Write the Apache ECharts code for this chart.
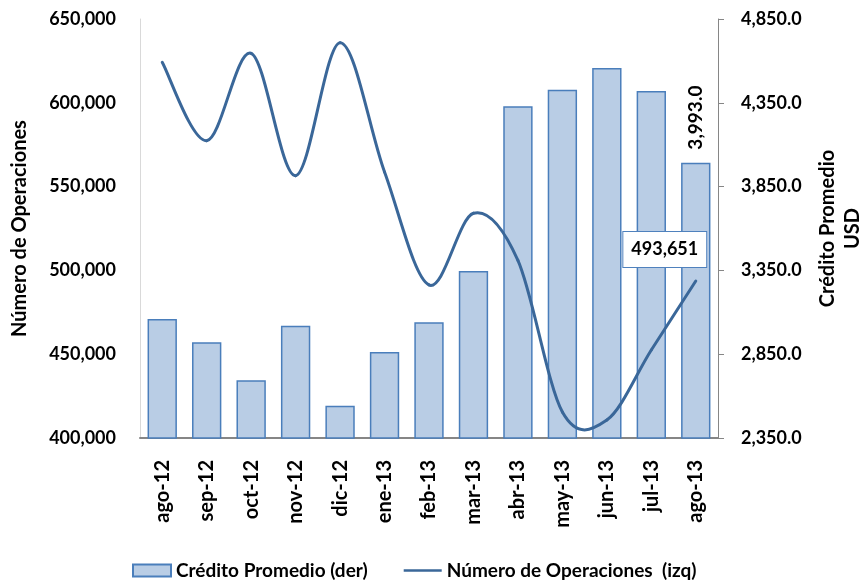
<!DOCTYPE html>
<html>
<head>
<meta charset="utf-8">
<script src="https://cdn.jsdelivr.net/npm/echarts@6/dist/echarts.min.js"></script>
<style>html,body{margin:0;padding:0;background:#fff;}#c{width:859px;height:584px;}</style>
</head>
<body>
<div id="c"></div>
<script>
const categories = ['ago-12','sep-12','oct-12','nov-12','dic-12','ene-13','feb-13','mar-13','abr-13','may-13','jun-13','jul-13','ago-13'];
const creditoPromedio = [3060, 2921, 2694, 3020, 2543, 2863, 3040, 3347, 4329, 4428, 4558, 4420, 3993.0];
const numeroOperaciones = [624200, 577400, 629500, 556500, 635900, 558700, 491300, 534100, 506000, 415500, 410700, 452500, 493651];
const leftTicks = {min: 400000, max: 650000, interval: 50000};
const rightTicks = {min: 2350, max: 4850, interval: 500};

const FONT = 'Lato';
const LINE_COLOR = '#3a6799';
const txt = size => ({fontFamily: FONT, fontWeight: 'bold', fontSize: size, color: '#000'});
const fmtInt = v => Math.round(v).toLocaleString('en-US');
const fmt1 = v => v.toLocaleString('en-US', {minimumFractionDigits: 1, maximumFractionDigits: 1});

const chart = echarts.init(document.getElementById('c'), null, {renderer: 'canvas'});
const last = creditoPromedio.length - 1;

// Smooth line (Catmull-Rom style, like the spreadsheet's smoothed line) drawn through the axis scales
function renderSmoothLine(params, api) {
  if (params.dataIndex !== 0) return null;
  const n = numeroOperaciones.length;
  const pts = numeroOperaciones.map((v, i) => api.coord([i, v]));
  const children = [];
  for (let i = 0; i < n - 1; i++) {
    const p0 = pts[i > 0 ? i - 1 : i];
    const p1 = pts[i];
    const p2 = pts[i + 1];
    const p3 = pts[i + 2 < n ? i + 2 : i + 1];
    children.push({
      type: 'bezierCurve',
      shape: {
        x1: p1[0], y1: p1[1], x2: p2[0], y2: p2[1],
        cpx1: p1[0] + (p2[0] - p0[0]) / 6, cpy1: p1[1] + (p2[1] - p0[1]) / 6,
        cpx2: p2[0] - (p3[0] - p1[0]) / 6, cpy2: p2[1] - (p3[1] - p1[1]) / 6
      },
      style: {fill: null, stroke: LINE_COLOR, lineWidth: 3, lineCap: 'round'}
    });
  }
  const pl = pts[n - 1];
  children.push({
    type: 'text',
    x: pl[0] - 31, y: pl[1] - 14,
    z2: 10,
    style: {
      text: fmtInt(numeroOperaciones[n - 1]),
      align: 'center', verticalAlign: 'bottom',
      fontFamily: FONT, fontWeight: 'bold', fontSize: 18, lineHeight: 19,
      fill: '#000', backgroundColor: '#fff', borderColor: '#4f81bd', borderWidth: 1,
      padding: [8, 8, 8, 8]
    }
  });
  return {type: 'group', children};
}

chart.setOption({
  animation: false,
  backgroundColor: '#fff',
  grid: {left: 140, right: 141, top: 19, bottom: 146, containLabel: false, outerBoundsMode: 'none'},
  legend: {
    bottom: 4, left: 132, padding: 0, itemGap: 36, itemWidth: 38, itemHeight: 12,
    textStyle: txt(19),
    data: [
      {name: 'Crédito Promedio (der)', icon: 'rect'},
      {name: 'Número de Operaciones  (izq)', icon: 'path://M0,0 H42 V3 H0 Z'}
    ]
  },
  xAxis: {
    type: 'category', data: categories,
    axisLine: {lineStyle: {color: '#868686', width: 2}},
    axisTick: {show: false},
    axisLabel: Object.assign({rotate: 90, margin: 22, interval: 0}, txt(20))
  },
  yAxis: [
    {
      type: 'value', position: 'left', min: leftTicks.min, max: leftTicks.max, interval: leftTicks.interval,
      name: 'Número de Operaciones', nameLocation: 'middle', nameRotate: 90, nameGap: 110,
      nameTextStyle: txt(20),
      axisLine: {show: true, lineStyle: {color: '#d9d9d9', width: 1}},
      axisTick: {show: false},
      splitLine: {show: false},
      axisLabel: Object.assign({margin: 24, formatter: fmtInt}, txt(18))
    },
    {
      type: 'value', position: 'right', min: rightTicks.min, max: rightTicks.max, interval: rightTicks.interval,
      name: 'Crédito Promedio\nUSD', nameLocation: 'middle', nameRotate: 90, nameGap: 97,
      nameTextStyle: Object.assign({lineHeight: 25}, txt(20)),
      axisLine: {show: true, lineStyle: {color: '#868686', width: 1}},
      axisTick: {show: true, inside: false, length: 6, lineStyle: {color: '#868686'}},
      splitLine: {show: false},
      axisLabel: Object.assign({margin: 23, formatter: fmt1}, txt(18))
    }
  ],
  series: [
    {
      name: 'Crédito Promedio (der)', type: 'bar', yAxisIndex: 1, barCategoryGap: '34%',
      itemStyle: {color: '#b9cde5', borderColor: '#4a7ebb', borderWidth: 1.5},
      data: creditoPromedio.map((v, i) => i === last ? {
        value: v,
        label: Object.assign({show: true, position: 'top', rotate: 90, align: 'left', verticalAlign: 'middle', distance: 13, formatter: p => fmt1(p.value)}, txt(19))
      } : v),
      z: 2
    },
    {
      name: 'Número de Operaciones  (izq)', type: 'custom', yAxisIndex: 0,
      itemStyle: {color: LINE_COLOR},
      encode: {x: 0, y: 1},
      data: numeroOperaciones.map((v, i) => [i, v]),
      renderItem: renderSmoothLine,
      z: 5
    }
  ]
});
</script>
</body>
</html>
